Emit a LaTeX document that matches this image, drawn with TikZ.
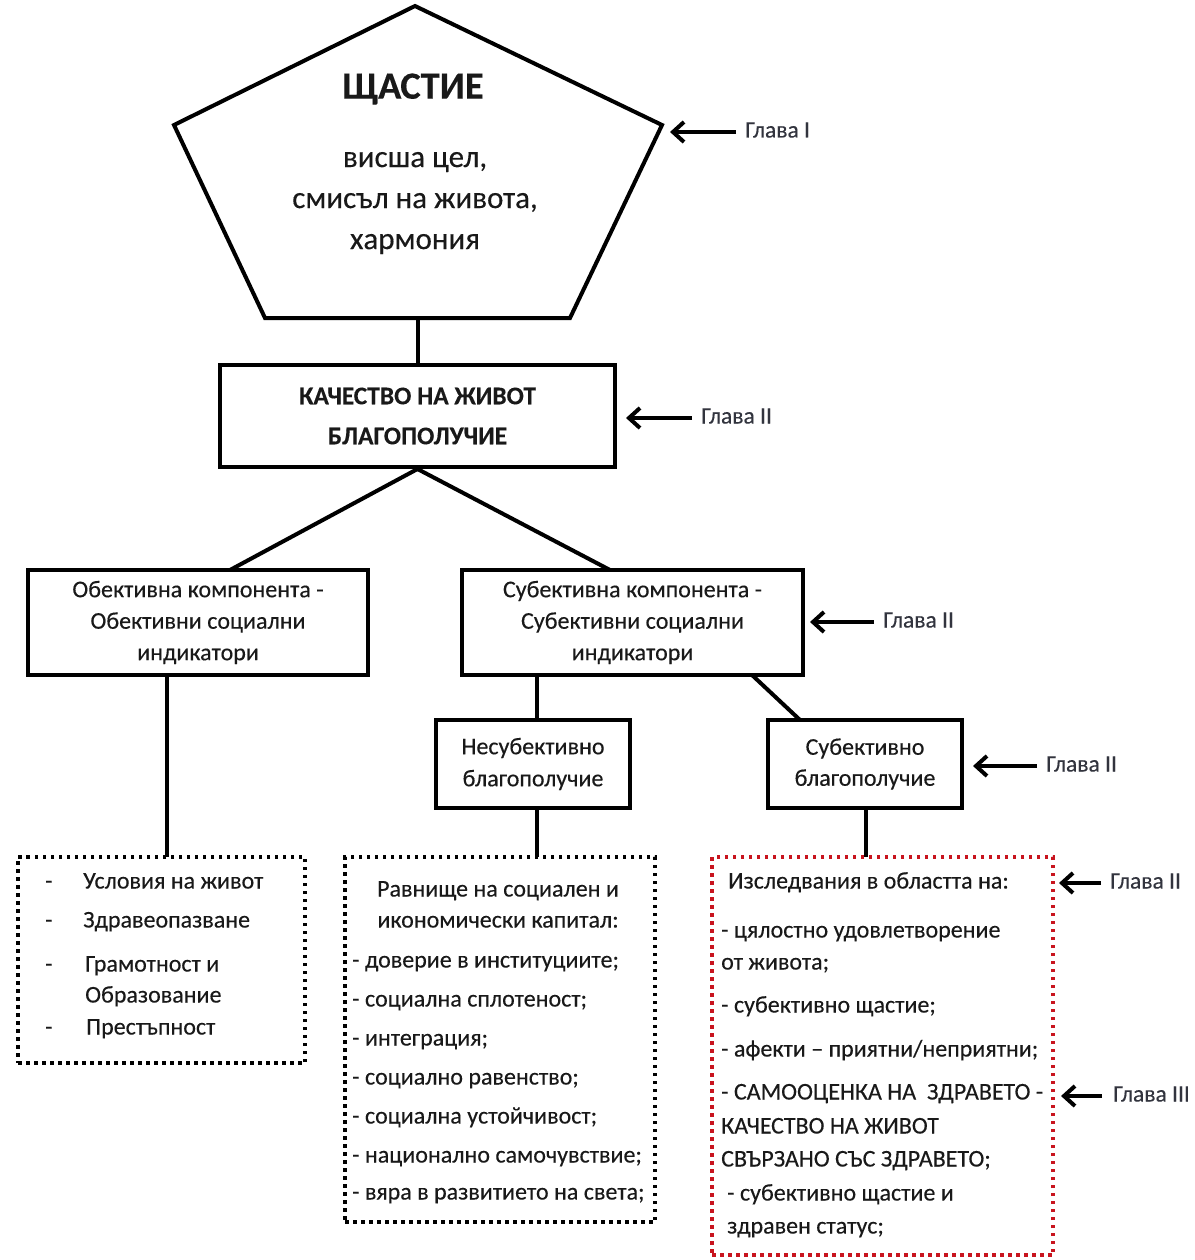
\documentclass[tikz,border=0pt]{standalone}
\usepackage{fontspec}
\setmainfont{Carlito}[FakeBold=0.25]
\usetikzlibrary{arrows.meta}
\definecolor{txt}{RGB}{25,25,25}
\definecolor{lbl}{RGB}{50,52,62}
\definecolor{redd}{RGB}{200,20,30}
\begin{document}
\begin{tikzpicture}[x=1pt,y=-1pt,
  conn/.style={line width=4pt},
  box/.style={draw, line width=4pt, inner sep=0pt, align=center, text=txt,
    font=\fontsize{24}{31.5}\selectfont},
  dotbox/.style={draw, line width=3.5pt, dash pattern=on 3.5pt off 4.5pt, inner sep=0pt},
  li/.style={anchor=west, inner sep=0pt, text=txt, text height=16pt, text depth=5pt,
    font=\fontsize{24}{28}\selectfont},
  lic/.style={li, anchor=center},
  glava/.style={anchor=west, inner sep=0pt, text=lbl, text height=15pt, text depth=4pt,
    font=\fontsize{23.5}{26}\selectfont},
  arr/.style={line width=4pt, -{Straight Barb[length=11pt,width=20pt,line width=4pt]}}
]
\useasboundingbox[fill=white] (0,0) rectangle (1194,1260);

% pentagon
\coordinate (p1) at (415,6);
\coordinate (p2) at (662,125);
\coordinate (p3) at (570,318);
\coordinate (p4) at (265,318);
\coordinate (p5) at (174,125);
\coordinate (pb) at (417.5,318);
\draw[line width=4pt, line join=miter] (p1) -- (p2) -- (p3) -- (p4) -- (p5) -- cycle;
\node[inner sep=0pt, text=txt, font=\fontsize{38.5}{42}\selectfont\bfseries] (happy) at (413,89) {ЩАСТИЕ};
\node[inner sep=0pt, text=txt, align=center, font=\fontsize{31}{41}\selectfont] (happyt) at (415,203)
  {висша цел,\\смисъл на живота,\\хармония};

% level 1
\node[box, minimum width=395pt, minimum height=102pt, font=\fontsize{25.5}{40}\selectfont\bfseries] (qol) at (417.5,416)
  {КАЧЕСТВО НА ЖИВОТ\\БЛАГОПОЛУЧИЕ};
\draw[conn] (pb) -- (qol.north);

% level 2
\node[box, minimum width=340pt, minimum height=105pt] (obj) at (198,622.5)
  {Обективна компонента -\\Обективни социални\\индикатори};
\node[box, minimum width=341pt, minimum height=105pt] (subj) at (632.5,622.5)
  {Субективна компонента -\\Субективни социални\\индикатори};
\coordinate (objt) at (230,570);
\coordinate (subjt) at (610,570);
\draw[conn] (qol.south) -- (objt);
\draw[conn] (qol.south) -- (subjt);

% level 3
\node[box, minimum width=194pt, minimum height=88pt, font=\fontsize{24}{32}\selectfont] (nsw) at (533,764)
  {Несубективно\\благополучие};
\node[box, minimum width=194pt, minimum height=88pt, font=\fontsize{24}{31}\selectfont] (sw) at (865,764)
  {Субективно\\благополучие};
\coordinate (sb1) at (537,675);
\coordinate (sb2) at (752,675);
\coordinate (nswt) at (537,720);
\coordinate (swt) at (800,720);
\draw[conn] (sb1) -- (nswt);
\draw[conn] (sb2) -- (swt);

% dotted boxes
\node[dotbox, minimum width=287pt, minimum height=206pt] (lbox) at (161.5,960) {};
\node[dotbox, minimum width=310pt, minimum height=365pt] (mbox) at (500,1039.5) {};
\node[dotbox, draw=redd, minimum width=341pt, minimum height=398pt] (rbox) at (882.5,1056) {};
\coordinate (ob) at (167,675);
\coordinate (lt) at (167,857);
\draw[conn] (ob) -- (lt);
\coordinate (mt) at (537,857);
\coordinate (nb) at (537,808);
\draw[conn] (nb) -- (mt);
\coordinate (rt) at (866,857);
\coordinate (swb) at (866,808);
\draw[conn] (swb) -- (rt);

% left box text
\foreach \y [count=\i] in {883,922,966,1029}{
  \node[li] (ld\i) at (45,\y) {-};
}
\node[li] (l1) at (83,883) {Условия на живот};
\node[li] (l2) at (83,922) {Здравеопазване};
\node[li] (l3) at (85,966) {Грамотност и};
\node[li] (l4) at (85,997) {Образование};
\node[li] (l5) at (86,1029) {Престъпност};

% middle box text
\node[lic] (m1) at (498,891) {Равнище на социален и};
\node[lic] (m2) at (498,922) {икономически капитал:};
\node[li] (m3) at (352,962) {- доверие в институциите;};
\node[li] (m4) at (352,1001) {- социална сплотеност;};
\node[li] (m5) at (352,1040) {- интеграция;};
\node[li] (m6) at (352,1079) {- социално равенство;};
\node[li] (m7) at (352,1118) {- социална устойчивост;};
\node[li] (m8) at (352,1157) {- национално самочувствие;};
\node[li] (m9) at (352,1194) {- вяра в развитието на света;};

% right box text
\node[li] (r1) at (728,883) {Изследвания в областта на:};
\node[li] (r2) at (721,932) {- цялостно удовлетворение};
\node[li] (r3) at (721,964) {от живота;};
\node[li] (r4) at (721,1007) {- субективно щастие;};
\node[li] (r5) at (721,1051) {- афекти – приятни/неприятни;};
\node[li] (r6) at (721,1094) {- САМООЦЕНКА НА \ ЗДРАВЕТО -};
\node[li] (r7) at (721,1128) {КАЧЕСТВО НА ЖИВОТ};
\node[li] (r8) at (721,1161) {СВЪРЗАНО СЪС ЗДРАВЕТО;};
\node[li] (r9) at (727,1195) {- субективно щастие и};
\node[li] (r10) at (727,1228) {здравен статус;};

% chapter labels
\node[glava] (g1) at (745,132) {Глава I};
\coordinate (g1h) at (670,132);
\draw[arr] (g1.west) ++(-9,0) -- (g1h);

\node[glava] (g2) at (701,418) {Глава II};
\coordinate (g2h) at (626,418);
\draw[arr] (g2.west) ++(-9,0) -- (g2h);

\node[glava] (g3) at (883,622) {Глава II};
\coordinate (g3h) at (810,622);
\draw[arr] (g3.west) ++(-9,0) -- (g3h);

\node[glava] (g4) at (1046,766) {Глава II};
\coordinate (g4h) at (973,766);
\draw[arr] (g4.west) ++(-9,0) -- (g4h);

\node[glava] (g5) at (1110,883) {Глава II};
\coordinate (g5h) at (1059,883);
\draw[arr] (g5.west) ++(-9,0) -- (g5h);

\node[glava] (g6) at (1113,1096) {Глава III};
\coordinate (g6h) at (1061,1096);
\draw[arr] (g6.west) ++(-11,0) -- (g6h);
\end{tikzpicture}
\end{document}
